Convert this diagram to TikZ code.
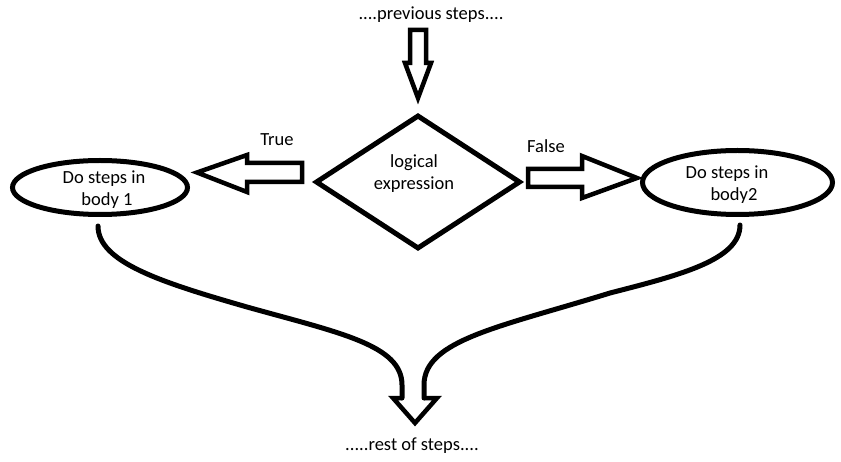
\documentclass[tikz,border=0pt]{standalone}
\usepackage{fontspec}
\setmainfont{Carlito}
\usetikzlibrary{shapes.geometric}
\begin{document}
\begin{tikzpicture}[x=1pt,y=-1pt,
  txt/.style={font=\fontsize{18.5}{22}\selectfont, inner sep=0pt, align=center},
  thick5/.style={line width=5pt},
  blockarrow/.style={line width=4.5pt, line join=miter, fill=white},
  oval/.style={ellipse, draw, line width=5pt, inner sep=0pt},
  dia/.style={diamond, draw, line width=5pt, inner sep=0pt, line join=miter}
]
\useasboundingbox (0,0) rectangle (841,462);
% nodes
\node[txt] (prev) at (431,15) {....previous steps....};
\node[dia, minimum width=205pt, minimum height=134pt] (cond) at (418,182) {};
\node[txt] (condt) at (414,174) {logical\\expression};
\node[oval, minimum width=175pt, minimum height=54pt] (b1) at (100,187.5) {};
\node[txt] (b1t) at (104,190) {Do steps in\\\hspace*{6pt}body 1};
\node[oval, minimum width=190pt, minimum height=64pt] (b2) at (737.5,182.5) {};
\node[txt] (b2t) at (727,185) {Do steps in\\\hspace*{14pt}body2};
\node[txt] (true) at (277,140) {True};
\node[txt] (false) at (546,146) {False};
\node[txt] (rest) at (412,446) {.....rest of steps....};
% top block arrow
\draw[blockarrow] (410,30) -- (426,30) -- (426,63) -- (431,63) -- (418,98) -- (405,63) -- (410,63) -- cycle;
% left block arrow (True)
\draw[blockarrow] (302,163) -- (302,182) -- (247,182) -- (247,192) -- (197,172.5) -- (247,155) -- (247,163) -- cycle;
% right block arrow (False)
\draw[blockarrow] (528,169) -- (582,169) -- (582,156) -- (637,178) -- (582,198) -- (582,187) -- (528,187) -- cycle;
% merging curves into the bottom arrow
\coordinate (l1) at (98,226);
\coordinate (r1) at (740,225);
\draw[thick5, line cap=round] (l1) .. controls (98,262) and (160,282) .. (247,307)
  .. controls (340,333) and (402,345) .. (402,385) -- (402,398);
\draw[thick5, line cap=round] (r1) .. controls (740,260) and (680,275) .. (610,293)
  .. controls (500,327) and (424,340) .. (424,385) -- (424,398);
\draw[line width=4.5pt, line join=miter] (402,398) -- (393,398) -- (415,423) -- (437,398) -- (424,398);
\end{tikzpicture}
\end{document}
